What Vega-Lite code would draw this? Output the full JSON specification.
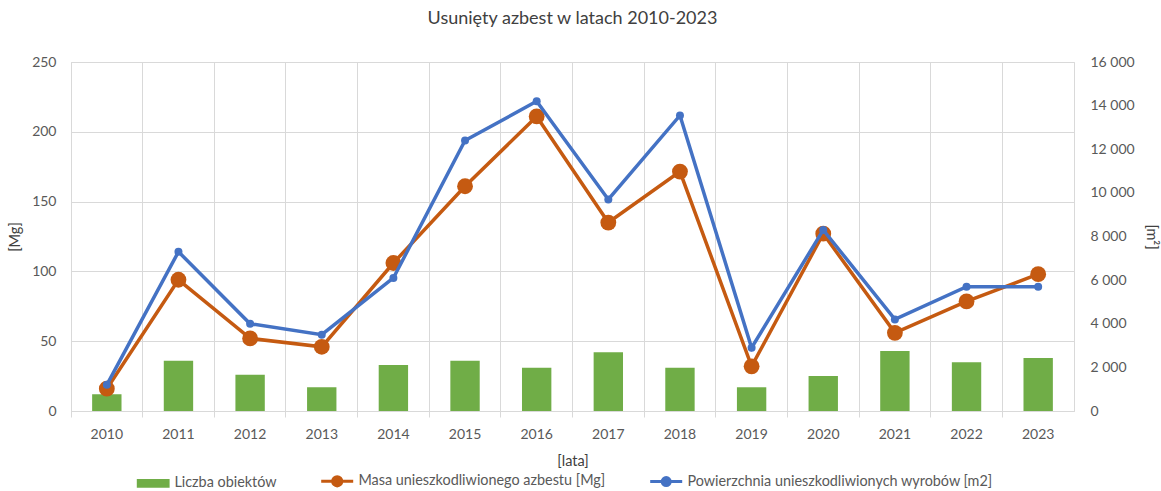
{
  "$schema": "https://vega.github.io/schema/vega-lite/v6.json",
  "width": 1003,
  "height": 349,
  "autosize": {"type": "none"},
  "padding": {"left": 71, "top": 62, "right": 87, "bottom": 80},
  "title": {
    "text": "Usunięty azbest w latach 2010-2023",
    "frame": "group",
    "anchor": "middle",
    "fontSize": 18,
    "fontWeight": "normal",
    "color": "#404040",
    "offset": 27
  },
  "data": {
    "values": [
      {"rok": "2010", "liczba": 12, "masa": 16, "pow": 1200},
      {"rok": "2011", "liczba": 36, "masa": 94, "pow": 7300},
      {"rok": "2012", "liczba": 26, "masa": 52, "pow": 4000},
      {"rok": "2013", "liczba": 17, "masa": 46, "pow": 3500},
      {"rok": "2014", "liczba": 33, "masa": 106, "pow": 6100},
      {"rok": "2015", "liczba": 36, "masa": 161, "pow": 12400},
      {"rok": "2016", "liczba": 31, "masa": 211, "pow": 14200},
      {"rok": "2017", "liczba": 42, "masa": 135, "pow": 9700},
      {"rok": "2018", "liczba": 31, "masa": 171.5, "pow": 13550},
      {"rok": "2019", "liczba": 17, "masa": 32, "pow": 2900},
      {"rok": "2020", "liczba": 25, "masa": 127, "pow": 8300},
      {"rok": "2021", "liczba": 43, "masa": 56, "pow": 4200},
      {"rok": "2022", "liczba": 35, "masa": 78.5, "pow": 5700},
      {"rok": "2023", "liczba": 38, "masa": 98, "pow": 5700}
    ]
  },
  "encoding": {
    "x": {
      "field": "rok",
      "type": "ordinal",
      "scale": {"paddingInner": 0, "paddingOuter": 0},
      "axis": {
        "title": "[lata]",
        "labelAngle": 0,
        "bandPosition": 0,
        "grid": true,
        "gridColor": "#d9d9d9",
        "domainColor": "#d9d9d9",
        "tickColor": "#d9d9d9",
        "tickSize": 6,
        "labelPadding": 10,
        "titlePadding": 13
      }
    }
  },
  "layer": [
    {
      "layer": [
        {
          "mark": {"type": "bar", "width": {"band": 0.41}},
          "encoding": {
            "y": {
              "field": "liczba",
              "type": "quantitative",
              "scale": {"domain": [0, 250], "nice": false},
              "axis": {
                "title": "[Mg]",
                "values": [0, 50, 100, 150, 200, 250],
                "grid": true,
                "gridColor": "#d9d9d9",
                "domain": false,
                "ticks": false,
                "labelPadding": 15,
                "titlePadding": 9
              }
            },
            "color": {
              "datum": "Liczba obiektów",
              "type": "nominal",
              "scale": {
                "domain": ["Liczba obiektów", "Masa unieszkodliwionego azbestu [Mg]", "Powierzchnia unieszkodliwionych wyrobów [m2]"],
                "range": ["#70AD47", "#C55A11", "#4472C4"]
              },
              "legend": {
                "title": null,
                "orient": "bottom",
                "direction": "horizontal",
                "symbolSize": 1600,
                "labelOffset": 8,
                "columnPadding": 38,
                "encode": {
                  "symbols": {
                    "update": {
                      "shape": {"signal": "datum.value === 'Liczba obiektów' ? 'M-1.12,-0.22L0.52,-0.22L0.52,0.22L-1.12,0.22Z' : (datum.value === 'Masa unieszkodliwionego azbestu [Mg]' ? 'M-1.1,0L0.5,0M-0.07,0A0.23,0.23,0,1,1,-0.53,0A0.23,0.23,0,1,1,-0.07,0Z' : 'M-1.1,0L0.5,0M-0.1,0A0.2,0.2,0,1,1,-0.5,0A0.2,0.2,0,1,1,-0.1,0Z')"},
                      "fill": {"scale": "color", "field": "value"},
                      "stroke": {"scale": "color", "field": "value"},
                      "strokeWidth": {"signal": "datum.value === 'Liczba obiektów' ? 0 : 3"},
                      "opacity": {"value": 1},
                      "fillOpacity": {"value": 1}
                    }
                  }
                }
              }
            }
          }
        },
        {
          "mark": {"type": "line", "strokeWidth": 3.5, "point": {"filled": true, "size": 250, "opacity": 1}},
          "encoding": {
            "y": {"field": "masa", "type": "quantitative"},
            "color": {
              "datum": "Masa unieszkodliwionego azbestu [Mg]",
              "type": "nominal",
              "legend": {
                "title": null,
                "orient": "bottom",
                "direction": "horizontal",
                "symbolSize": 1600,
                "labelOffset": 8,
                "columnPadding": 38,
                "encode": {
                  "symbols": {
                    "update": {
                      "shape": {"signal": "datum.value === 'Liczba obiektów' ? 'M-1.12,-0.22L0.52,-0.22L0.52,0.22L-1.12,0.22Z' : (datum.value === 'Masa unieszkodliwionego azbestu [Mg]' ? 'M-1.1,0L0.5,0M-0.07,0A0.23,0.23,0,1,1,-0.53,0A0.23,0.23,0,1,1,-0.07,0Z' : 'M-1.1,0L0.5,0M-0.1,0A0.2,0.2,0,1,1,-0.5,0A0.2,0.2,0,1,1,-0.1,0Z')"},
                      "fill": {"scale": "color", "field": "value"},
                      "stroke": {"scale": "color", "field": "value"},
                      "strokeWidth": {"signal": "datum.value === 'Liczba obiektów' ? 0 : 3"},
                      "opacity": {"value": 1},
                      "fillOpacity": {"value": 1}
                    }
                  }
                }
              }
            }
          }
        }
      ]
    },
    {
      "mark": {"type": "line", "strokeWidth": 3.5, "point": {"filled": true, "size": 64, "opacity": 1}},
      "encoding": {
        "y": {
          "field": "pow",
          "type": "quantitative",
          "scale": {"domain": [0, 16000], "nice": false},
          "axis": {
            "title": "[m²]",
            "orient": "right",
            "values": [0, 2000, 4000, 6000, 8000, 10000, 12000, 14000, 16000],
            "labelExpr": "replace(format(datum.value, ',d'), ',', ' ')",
            "grid": false,
            "domain": false,
            "ticks": false,
            "labelPadding": 16,
            "titlePadding": 9
          }
        },
        "color": {
          "datum": "Powierzchnia unieszkodliwionych wyrobów [m2]",
          "type": "nominal",
          "legend": {
            "title": null,
            "orient": "bottom",
            "direction": "horizontal",
            "symbolSize": 1600,
            "labelOffset": 8,
            "columnPadding": 38,
            "encode": {
              "symbols": {
                "update": {
                  "shape": {"signal": "datum.value === 'Liczba obiektów' ? 'M-1.12,-0.22L0.52,-0.22L0.52,0.22L-1.12,0.22Z' : (datum.value === 'Masa unieszkodliwionego azbestu [Mg]' ? 'M-1.1,0L0.5,0M-0.07,0A0.23,0.23,0,1,1,-0.53,0A0.23,0.23,0,1,1,-0.07,0Z' : 'M-1.1,0L0.5,0M-0.1,0A0.2,0.2,0,1,1,-0.5,0A0.2,0.2,0,1,1,-0.1,0Z')"},
                  "fill": {"scale": "color", "field": "value"},
                  "stroke": {"scale": "color", "field": "value"},
                  "strokeWidth": {"signal": "datum.value === 'Liczba obiektów' ? 0 : 3"},
                  "opacity": {"value": 1},
                  "fillOpacity": {"value": 1}
                }
              }
            }
          }
        }
      }
    }
  ],
  "resolve": {"scale": {"y": "independent"}},
  "config": {
    "font": "Lato",
    "view": {"stroke": "#d9d9d9"},
    "axis": {
      "labelFont": "Lato",
      "labelFontSize": 14,
      "labelColor": "#595959",
      "titleFont": "Lato",
      "titleFontSize": 14.5,
      "titleFontWeight": "normal",
      "titleColor": "#404040"
    },
    "legend": {
      "labelFont": "Lato",
      "labelFontSize": 14.4,
      "labelColor": "#595959",
      "labelLimit": 500,
      "offset": 6,
      "layout": {"bottom": {"anchor": "middle"}}
    }
  }
}
